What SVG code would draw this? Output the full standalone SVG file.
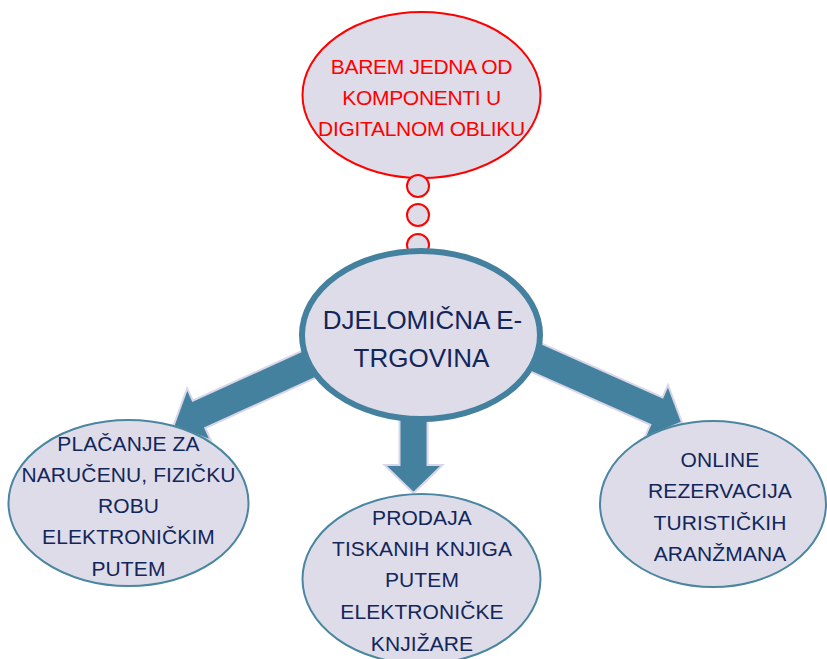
<svg xmlns="http://www.w3.org/2000/svg" width="827" height="659" viewBox="0 0 827 659">
<defs>
<style>
.bub{fill:#DEDCE9;stroke:#4A86A0;stroke-width:2}
.main{fill:#DEDCE9;stroke:#44819E;stroke-width:6}
.red{fill:#DEDCE9;stroke:#FF0000;stroke-width:2}
.arr{fill:#44819E;stroke:#D8D6E8;stroke-width:2;stroke-linejoin:miter}
text{font-family:"Liberation Sans",Arial,sans-serif;text-anchor:middle}
.t{font-size:21px;fill:#13265A;letter-spacing:0.1px}
.tr{font-size:21px;fill:#FF0000;letter-spacing:-0.3px}
.tm{font-size:26px;fill:#13265A}
</style>
</defs>
<rect width="827" height="659" fill="#FFFFFF"/>
<g id="connectors">
<polygon class="arr" transform="translate(173.5,426) rotate(155.5)" points="-170,-15 -28,-15 -28,-28.5 0,0 -28,28.5 -28,15 -170,15"/>
<polygon class="arr" transform="translate(682,422.5) rotate(24)" points="-170,-15 -28,-15 -28,-28.5 0,0 -28,28.5 -28,15 -170,15"/>
<polygon class="arr" transform="translate(413.5,493) rotate(90)" points="-100,-14 -28,-14 -28,-29 0,0 -28,29 -28,14 -100,14"/>
</g>
<g id="thought">
<ellipse class="red" cx="421.5" cy="95" rx="119" ry="83"/>
<circle class="red" cx="418" cy="186" r="11"/>
<circle class="red" cx="418" cy="215" r="11"/>
<circle class="red" cx="418" cy="245" r="11"/>
<text class="tr" x="421.5" y="74">BAREM JEDNA OD</text>
<text class="tr" x="421.5" y="105">KOMPONENTI U</text>
<text class="tr" x="421.5" y="136">DIGITALNOM OBLIKU</text>
</g>
<g id="center">
<ellipse class="main" cx="421" cy="335" rx="119" ry="84"/>
<text class="tm" x="422.5" y="329">DJELOMIČNA E-</text>
<text class="tm" x="421.5" y="367">TRGOVINA</text>
</g>
<g id="left">
<ellipse class="bub" cx="128.5" cy="503" rx="120" ry="83"/>
<text class="t" x="128.5" y="451">PLAČANJE ZA</text>
<text class="t" x="128.5" y="482">NARUČENU, FIZIČKU</text>
<text class="t" x="128.5" y="513">ROBU</text>
<text class="t" x="128.5" y="544">ELEKTRONIČKIM</text>
<text class="t" x="128.5" y="576">PUTEM</text>
</g>
<g id="middle">
<ellipse class="bub" cx="421.5" cy="579" rx="119" ry="85"/>
<text class="t" x="422" y="525">PRODAJA</text>
<text class="t" x="422" y="556">TISKANIH KNJIGA</text>
<text class="t" x="422" y="587">PUTEM</text>
<text class="t" x="422" y="619">ELEKTRONIČKE</text>
<text class="t" x="422" y="651">KNJIŽARE</text>
</g>
<g id="right">
<ellipse class="bub" cx="713" cy="504" rx="113" ry="83"/>
<text class="t" x="720" y="467">ONLINE</text>
<text class="t" x="720" y="498">REZERVACIJA</text>
<text class="t" x="720" y="530">TURISTIČKIH</text>
<text class="t" x="720" y="561">ARANŽMANA</text>
</g>
</svg>
